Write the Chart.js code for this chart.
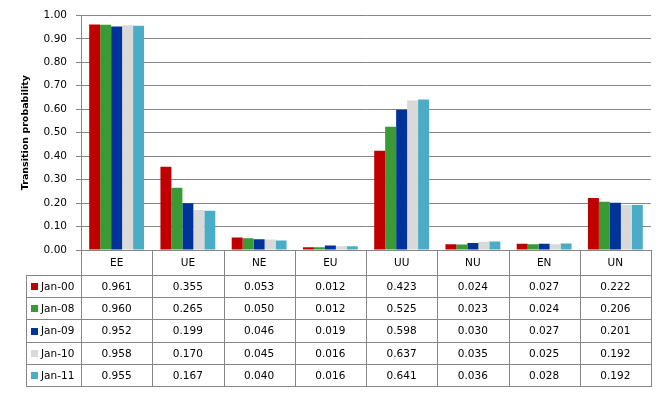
<!DOCTYPE html>
<html>
<head>
<meta charset="utf-8">
<script src="https://cdn.jsdelivr.net/npm/chart.js@4"></script>
<style>
  html, body { margin: 0; padding: 0; background: #fff; }
  #wrap { width: 667px; height: 394px; position: relative; }
</style>
</head>
<body>
<div id="wrap"><canvas id="c" width="667" height="394"></canvas></div>
<script>
const categories = ['EE', 'UE', 'NE', 'EU', 'UU', 'NU', 'EN', 'UN'];
const seriesNames = ['Jan-00', 'Jan-08', 'Jan-09', 'Jan-10', 'Jan-11'];
const jan00 = [0.961, 0.355, 0.053, 0.012, 0.423, 0.024, 0.027, 0.222];
const jan08 = [0.960, 0.265, 0.050, 0.012, 0.525, 0.023, 0.024, 0.206];
const jan09 = [0.952, 0.199, 0.046, 0.019, 0.598, 0.030, 0.027, 0.201];
const jan10 = [0.958, 0.170, 0.045, 0.016, 0.637, 0.035, 0.025, 0.192];
const jan11 = [0.955, 0.167, 0.040, 0.016, 0.641, 0.036, 0.028, 0.192];
const seriesColors = ['#C00000', '#3A9A34', '#003399', '#D9D9D9', '#4BACC6'];
const yTitle = 'Transition probability';

const seriesValues = [jan00, jan08, jan09, jan10, jan11];
const FONT = 'DejaVu Sans';
const LINE = '#868686';

const tablePlugin = {
  id: 'dataTable',
  afterDraw(chart) {
    const ctx = chart.ctx;
    const xs = chart.scales.x;
    const area = chart.chartArea;
    const n = categories.length;
    const top = Math.round(area.bottom);
    const headerH = 25;
    const rowH = 22.2;
    const legendLeft = 26;
    const left = Math.round(area.left);
    const right = Math.round(area.right);
    const rowY = [top, top + headerH];
    for (let r = 1; r <= seriesNames.length; r++) rowY.push(Math.round(top + headerH + r * rowH));
    const bottom = rowY[rowY.length - 1];

    ctx.save();
    ctx.strokeStyle = LINE;
    ctx.lineWidth = 1;
    ctx.beginPath();
    // horizontal lines
    ctx.moveTo(left, top + 0.5); ctx.lineTo(right + 1, top + 0.5);
    for (let i = 1; i < rowY.length; i++) {
      ctx.moveTo(legendLeft, rowY[i] + 0.5); ctx.lineTo(right + 1, rowY[i] + 0.5);
    }
    // vertical lines
    for (let i = 0; i <= n; i++) {
      const x = Math.round(xs.getPixelForDecimal(i / n)) + 0.5;
      ctx.moveTo(x, top); ctx.lineTo(x, bottom + 1);
    }
    ctx.moveTo(legendLeft + 0.5, rowY[1]); ctx.lineTo(legendLeft + 0.5, bottom + 1);
    ctx.stroke();

    ctx.fillStyle = '#000';
    ctx.font = '10.5px "' + FONT + '"';
    ctx.textBaseline = 'middle';
    ctx.textAlign = 'center';
    for (let i = 0; i < n; i++) {
      const cx = xs.getPixelForTick(i);
      ctx.fillText(categories[i], cx, (rowY[0] + rowY[1]) / 2 + 1);
      for (let s = 0; s < seriesNames.length; s++) {
        ctx.fillText(seriesValues[s][i].toFixed(3), cx, (rowY[s + 1] + rowY[s + 2]) / 2 + 1);
      }
    }
    ctx.textAlign = 'left';
    for (let s = 0; s < seriesNames.length; s++) {
      const cy = (rowY[s + 1] + rowY[s + 2]) / 2;
      ctx.fillStyle = seriesColors[s];
      ctx.fillRect(31, Math.round(cy) - 3, 7, 7);
      ctx.fillStyle = '#000';
      ctx.fillText(seriesNames[s], 41, cy + 1);
    }
    ctx.restore();
  }
};

new Chart(document.getElementById('c'), {
  type: 'bar',
  data: {
    labels: categories,
    datasets: seriesNames.map((name, i) => ({
      label: name,
      data: seriesValues[i],
      backgroundColor: seriesColors[i],
      borderWidth: 0,
      barPercentage: 1.0,
      categoryPercentage: 0.77
    }))
  },
  options: {
    responsive: false,
    animation: false,
    devicePixelRatio: 1,
    layout: { padding: { top: 15, left: 0, right: 16, bottom: 144 } },
    plugins: { legend: { display: false }, tooltip: { enabled: false } },
    scales: {
      x: {
        ticks: { display: false },
        grid: { display: false, drawTicks: false },
        border: { display: true, color: LINE },
        afterFit(scale) { scale.height = 0; }
      },
      y: {
        min: 0, max: 1,
        ticks: {
          stepSize: 0.1,
          color: '#000',
          padding: 9,
          font: { family: FONT, size: 10.5 },
          callback: v => Number(v).toFixed(2)
        },
        grid: { color: LINE, tickLength: 5, drawTicks: true },
        border: { display: true, color: LINE },
        title: {
          display: true,
          text: yTitle,
          color: '#000',
          font: { family: FONT, size: 9.5, weight: 'bold' },
          padding: { top: 20, bottom: 0 }
        },
        afterFit(scale) { scale.width = 81; }
      }
    }
  },
  plugins: [tablePlugin]
});
</script>
</body>
</html>
